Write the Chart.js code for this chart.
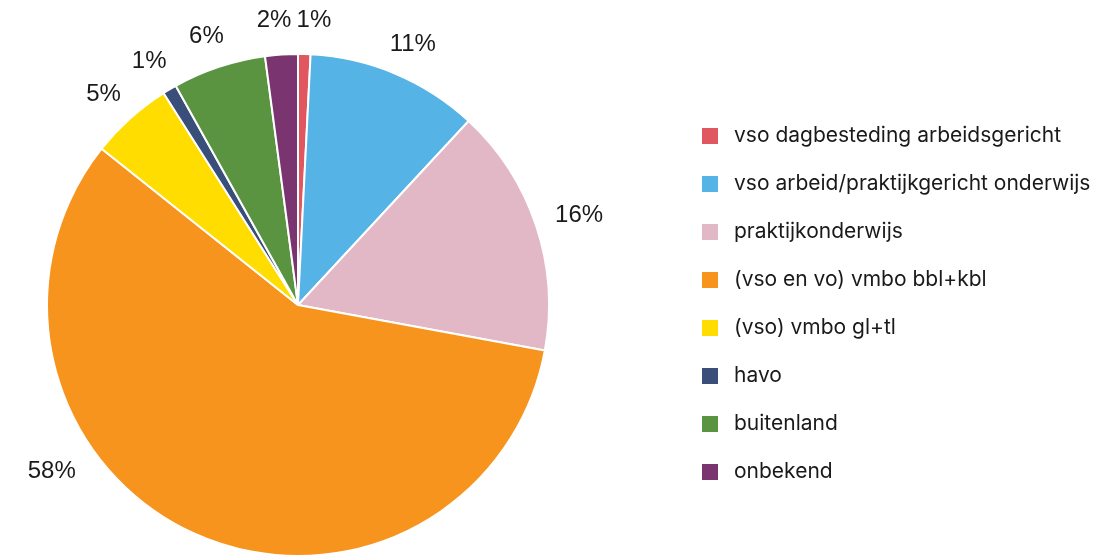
<!DOCTYPE html>
<html>
<head>
<meta charset="utf-8">
<script src="https://cdn.jsdelivr.net/npm/chart.js@4"></script>
<style>
  html, body { margin: 0; padding: 0; background: #fff; }
  #wrap { width: 1112px; height: 559px; position: relative; }
</style>
</head>
<body>
<div id="wrap"><canvas id="pieChart" width="1112" height="559"></canvas></div>
<script>
// Data
const categories = [
    'vso dagbesteding arbeidsgericht',
    'vso arbeid/praktijkgericht onderwijs',
    'praktijkonderwijs',
    '(vso en vo) vmbo bbl+kbl',
    '(vso) vmbo gl+tl',
    'havo',
    'buitenland',
    'onbekend'
];
const shares = [0.8, 11.1, 16.0, 57.8, 5.3, 0.9, 6.0, 2.1];
const colors = ['#E0575F', '#56B3E6', '#E3B8C6', '#F7941D', '#FFDD00', '#3A4E7A', '#5A9440', '#7A3570'];

// Label placement overrides (degrees clockwise from top, distance from centre)
const labelOverride = {
    0: { angle: 3.2, dist: 285 },
    3: { angle: 236, dist: 297 },
    7: { angle: 355.2, dist: 286 }
};

// Draws percentage labels around the pie and the legend on the right
const pieExtras = {
    id: 'pieExtras',
    afterDraw(chart) {
        const ctx = chart.ctx;
        const meta = chart.getDatasetMeta(0);
        const total = shares.reduce((a, b) => a + b, 0);
        ctx.save();
        ctx.fillStyle = '#1a1a1a';
        ctx.font = '24px "Liberation Sans", Arial, sans-serif';
        ctx.textAlign = 'center';
        ctx.textBaseline = 'middle';
        meta.data.forEach((arc, i) => {
            const text = Math.round(shares[i] / total * 100) + '%';
            let x, y;
            if (labelOverride[i]) {
                const a = labelOverride[i].angle * Math.PI / 180 - Math.PI / 2;
                x = arc.x + Math.cos(a) * labelOverride[i].dist;
                y = arc.y + Math.sin(a) * labelOverride[i].dist;
            } else {
                const mid = (arc.startAngle + arc.endAngle) / 2;
                const w = ctx.measureText(text).width;
                const d = arc.outerRadius + 26;
                x = arc.x + Math.cos(mid) * d + Math.cos(mid) * w * 0.4;
                y = arc.y + Math.sin(mid) * d + Math.sin(mid) * 6;
            }
            ctx.fillText(text, x, y);
        });

        // Legend
        ctx.font = '21px Inter, "Noto Sans", sans-serif';
        ctx.textAlign = 'left';
        categories.forEach((label, i) => {
            const y = 136 + i * 48;
            ctx.fillStyle = colors[i];
            ctx.fillRect(702, y - 8, 16, 16);
            ctx.fillStyle = '#1a1a1a';
            ctx.fillText(label, 734, y);
        });
        ctx.restore();
    }
};

const ctx = document.getElementById('pieChart').getContext('2d');
const pieChart = new Chart(ctx, {
    type: 'pie',
    data: {
        labels: categories,
        datasets: [{
            data: shares,
            backgroundColor: colors,
            borderColor: '#ffffff',
            borderWidth: 2
        }]
    },
    options: {
        responsive: false,
        animation: false,
        layout: {
            padding: { top: 53, bottom: 2, left: 46, right: 562 }
        },
        plugins: {
            legend: { display: false },
            tooltip: { enabled: false }
        }
    },
    plugins: [pieExtras]
});
</script>
</body>
</html>
